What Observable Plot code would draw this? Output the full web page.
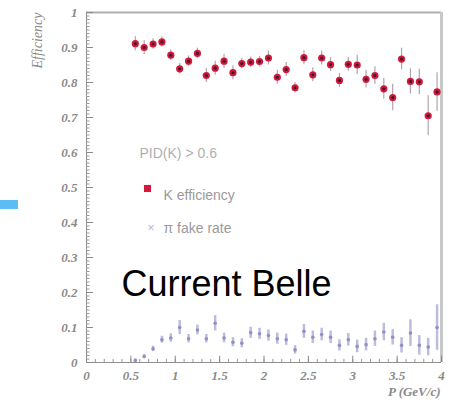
<!DOCTYPE html>
<html><head><meta charset="utf-8">
<script src="https://cdn.jsdelivr.net/npm/d3@7"></script>
<script src="https://cdn.jsdelivr.net/npm/@observablehq/plot@0.6"></script>
<style>
body{margin:0;background:#fff;}
#wrap{position:relative;width:452px;height:403px;}
#wrap .blue{position:absolute;left:0;top:200px;width:18px;height:9px;background:#5cbcf4;z-index:2;}
</style>
</head><body><div id="wrap"><div class="blue"></div></div>
<script>
const momentum = [0.55,0.65,0.75,0.85,0.95,1.05,1.15,1.25,1.35,1.45,1.55,1.65,1.75,1.85,1.95,2.05,2.15,2.25,2.35,2.45,2.55,2.65,2.75,2.85,2.95,3.05,3.15,3.25,3.35,3.45,3.55,3.65,3.75,3.85,3.95];
const kEff = [0.911,0.900,0.910,0.916,0.878,0.839,0.861,0.883,0.820,0.841,0.861,0.828,0.854,0.858,0.860,0.870,0.815,0.837,0.785,0.871,0.822,0.870,0.851,0.806,0.852,0.850,0.809,0.820,0.782,0.757,0.867,0.803,0.802,0.705,0.773];
const kErr = [0.02,0.02,0.015,0.015,0.015,0.015,0.015,0.015,0.02,0.02,0.02,0.02,0.015,0.015,0.015,0.02,0.02,0.02,0.015,0.02,0.02,0.02,0.02,0.02,0.02,0.028,0.025,0.025,0.03,0.038,0.031,0.036,0.036,0.057,0.055];
const piFake = [0.006,0.017,0.039,0.065,0.07,0.1,0.068,0.093,0.068,0.112,0.07,0.058,0.055,0.085,0.082,0.077,0.068,0.065,0.036,0.089,0.072,0.08,0.072,0.049,0.065,0.046,0.051,0.068,0.087,0.072,0.049,0.084,0.049,0.044,0.1];
const piErr = [0.004,0.006,0.008,0.01,0.012,0.02,0.012,0.014,0.012,0.022,0.014,0.013,0.013,0.016,0.016,0.016,0.016,0.016,0.012,0.02,0.018,0.018,0.018,0.016,0.018,0.018,0.018,0.022,0.025,0.022,0.022,0.038,0.028,0.025,0.065];
const yTicks = [0,0.1,0.2,0.3,0.4,0.5,0.6,0.7,0.8,0.9,1];
const yTickLabels = ["0","0.1","0.2","0.3","0.4","0.5","0.6","0.7","0.8","0.9","1"];
const xTicks = [0,0.5,1,1.5,2,2.5,3,3.5,4];
const xTickLabels = ["0","0.5","1","1.5","2","2.5","3","3.5","4"];
const yMinor = d3.range(0,101).map(i => i/100);
const xMinor = d3.range(0,41).map(i => i/10);

const kData = momentum.map((p,i) => ({p, v:kEff[i], e:kErr[i]}));
const piData = momentum.map((p,i) => ({p, v:piFake[i], e:piErr[i]}));

const tickFont = {fontFamily:"Liberation Serif, DejaVu Serif, serif", fontStyle:"italic", fontSize:13, fontWeight:"bold", fill:"#8a8a8a"};

const chart = Plot.plot({
  width: 452, height: 403,
  marginLeft: 86, marginRight: 11, marginTop: 12, marginBottom: 41,
  x: {domain:[0,4]},
  y: {domain:[0,1]},
  style: {background:"#fff", overflow:"visible"},
  marks: [
    Plot.ruleY([1], {stroke:"#b0b0b0", strokeWidth:2}),
    Plot.ruleX([4], {stroke:"#c8c8c8", strokeWidth:3, y1:0, y2:1}),
    Plot.ruleY([0], {stroke:"#909090", strokeWidth:1}),
    Plot.ruleX([0], {stroke:"#909090", strokeWidth:1}),
    // inward minor and major ticks
    Plot.ruleY(yMinor, {y:d=>d, x1:0, x2:0.04, stroke:"#9a9a9a", strokeWidth:1}),
    Plot.ruleY(yTicks, {y:d=>d, x1:0, x2:0.08, stroke:"#8a8a8a", strokeWidth:1}),
    Plot.ruleX(xMinor, {x:d=>d, y1:0, y2:0.009, stroke:"#9a9a9a", strokeWidth:1}),
    Plot.ruleX(xTicks, {x:d=>d, y1:0, y2:0.018, stroke:"#8a8a8a", strokeWidth:1}),
    Plot.axisY(yTicks, {tickSize:0, tickPadding:9, tickFormat:(d,i)=>yTickLabels[i], label:null, ...tickFont}),
    Plot.axisX(xTicks, {tickSize:0, tickPadding:8, tickFormat:(d,i)=>xTickLabels[i], label:null, ...tickFont}),
    Plot.text(["Efficiency"], {frameAnchor:"top-left", dx:-54, dy:0, rotate:-90, textAnchor:"end", fontFamily:"Liberation Serif, serif", fontStyle:"italic", fontSize:14, fill:"#8a8a8a"}),
    Plot.text(["P (GeV/c)"], {frameAnchor:"bottom-right", dx:-1, dy:33, textAnchor:"end", fontFamily:"Liberation Serif, serif", fontStyle:"italic", fontSize:13, fontWeight:"bold", fill:"#8a8a8a"}),
    // pion fake rate
    Plot.ruleX(piData, {x:"p", y1:d=>d.v-d.e, y2:d=>d.v+d.e, stroke:"#bcbcde", strokeWidth:2.5}),
    Plot.dot(piData, {x:"p", y:"v", r:1.8, fill:"#9090c6"}),
    // K efficiency
    Plot.ruleX(kData, {x:"p", y1:d=>d.v-d.e, y2:d=>d.v+d.e, stroke:"#b0a4ac", strokeWidth:1.2}),
    Plot.dot(kData, {x:"p", y:"v", r:3.6, fill:"#d4183c"}),
    Plot.dot(kData, {x:"p", y:"v", r:1.6, fill:"#4a1828"}),
    // legend
    Plot.text(["PID(K) > 0.6"], {frameAnchor:"top-left", dx:53, dy:136, textAnchor:"start", fontFamily:"Liberation Sans, Arial, sans-serif", fontSize:14, fill:"#b0b0b0"}),
    Plot.dot([0], {frameAnchor:"top-left", dx:61, dy:176, symbol:"square", r:4, fill:"#d4183c"}),
    Plot.text(["K efficiency"], {frameAnchor:"top-left", dx:77, dy:178, textAnchor:"start", fontFamily:"Liberation Sans, Arial, sans-serif", fontSize:14, fill:"#9a9a9a"}),
    Plot.text(["×"], {frameAnchor:"top-left", dx:61, dy:211, fontFamily:"Liberation Sans, Arial, sans-serif", fontSize:12, fill:"#b8b8d0"}),
    Plot.text(["π fake rate"], {frameAnchor:"top-left", dx:77, dy:211, textAnchor:"start", fontFamily:"Liberation Sans, Arial, sans-serif", fontSize:14, fill:"#9a9a9a"}),
    Plot.text(["Current Belle"], {frameAnchor:"top-left", dx:35, dy:257.5, textAnchor:"start", fontFamily:"Liberation Sans, Arial, sans-serif", fontSize:36, fill:"#000"})
  ]
});
chart.style.position = "absolute";
chart.style.left = "0";
chart.style.top = "0";
document.getElementById("wrap").appendChild(chart);
</script>
</body></html>
